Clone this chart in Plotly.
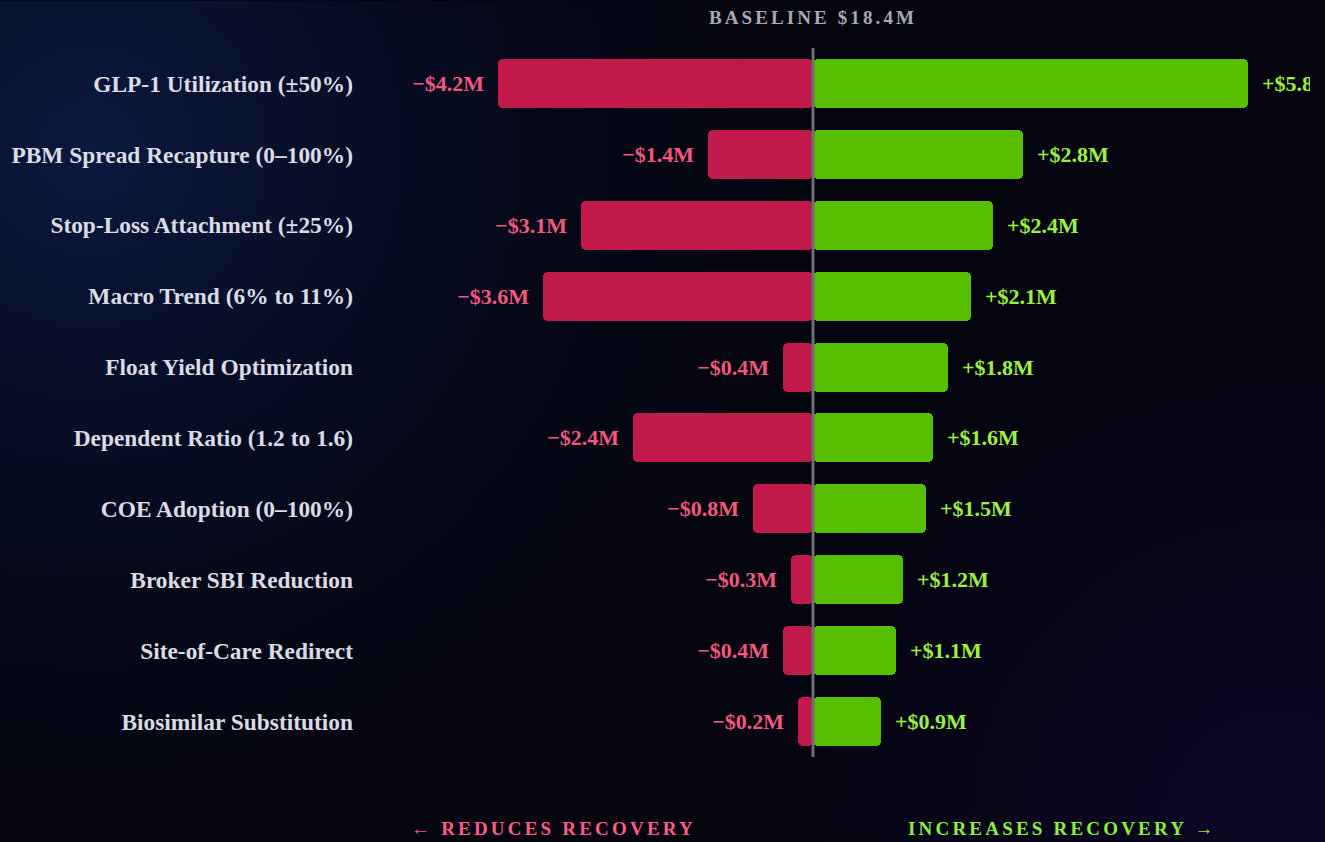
import base64
import plotly.graph_objects as go

# ---------------- data ----------------
categories = [
    "GLP-1 Utilization (±50%)",
    "PBM Spread Recapture (0–100%)",
    "Stop-Loss Attachment (±25%)",
    "Macro Trend (6% to 11%)",
    "Float Yield Optimization",
    "Dependent Ratio (1.2 to 1.6)",
    "COE Adoption (0–100%)",
    "Broker SBI Reduction",
    "Site-of-Care Redirect",
    "Biosimilar Substitution",
]
downside = [-4.2, -1.4, -3.1, -3.6, -0.4, -2.4, -0.8, -0.3, -0.4, -0.2]
upside = [5.8, 2.8, 2.4, 2.1, 1.8, 1.6, 1.5, 1.2, 1.1, 0.9]
baseline_label = "BASELINE $18.4M"
left_caption = "← REDUCES RECOVERY"
right_caption = "INCREASES RECOVERY →"

down_text = ["−$%.1fM" % abs(v) for v in downside]
up_text = ["+$%.1fM" % v for v in upside]

# ---------------- style ----------------
W, H = 1325, 842
ML, MR, MT, MB = 380, 15, 47.5, 84.5
PX_PER_M = 75.0
plot_w = W - ML - MR
plot_h = H - MT - MB
x0 = -(813 - ML) / PX_PER_M
x1 = x0 + plot_w / PX_PER_M

RED = "#C1194A"
GREEN = "#58BF00"
RED_TXT = "#F2587E"
GREEN_TXT = "#9CF03E"
SERIF = "Liberation Serif"
NB = "\u00a0\u00a0"

svg = f"""<svg xmlns='http://www.w3.org/2000/svg' width='{W}' height='{H}' viewBox='0 0 {W} {H}' preserveAspectRatio='none'>
<defs>
<radialGradient id='a' cx='90' cy='150' r='700' gradientUnits='userSpaceOnUse'>
<stop offset='0' stop-color='#0b1840'/><stop offset='0.45' stop-color='#08112e' stop-opacity='0.6'/><stop offset='1' stop-color='#060a20' stop-opacity='0'/></radialGradient>
<radialGradient id='b' cx='1280' cy='830' r='560' gradientUnits='userSpaceOnUse'>
<stop offset='0' stop-color='#10072a' stop-opacity='0.85'/><stop offset='1' stop-color='#0a0522' stop-opacity='0'/></radialGradient>
</defs>
<rect width='{W}' height='{H}' fill='#04050f'/>
<rect width='{W}' height='{H}' fill='url(#a)'/>
<rect width='{W}' height='{H}' fill='url(#b)'/>
</svg>"""
bg_src = "data:image/svg+xml;base64," + base64.b64encode(svg.encode()).decode()

fig = go.Figure()

def half_bars(vals, color, text, txtcolor, left):
    # inner piece (rounded at the baseline end)
    fig.add_trace(go.Bar(
        y=categories, x=[-v * 0.7 for v in vals], base=[v * 0.7 for v in vals],
        orientation="h", width=0.69, marker=dict(color=color, cornerradius=5, line=dict(width=0)),
        hoverinfo="skip", showlegend=False,
    ))
    # outer piece (rounded at the value end) + label
    labels = [(t + NB) if left else (NB + t) for t in text]
    fig.add_trace(go.Bar(
        y=categories, x=[v * 0.7 for v in vals], base=[v * 0.3 for v in vals],
        orientation="h", width=0.69, marker=dict(color=color, cornerradius=5, line=dict(width=0)),
        text=labels, textposition="outside", constraintext="none", cliponaxis=True,
        textfont=dict(family=SERIF, size=22, color=txtcolor, weight="bold"),
        hoverinfo="skip", showlegend=False,
    ))

half_bars(downside, RED, down_text, RED_TXT, True)
half_bars(upside, GREEN, up_text, GREEN_TXT, False)

fig.add_shape(type="line", xref="x", yref="paper", x0=0, x1=0, y0=0, y1=1,
              line=dict(color="#6E6E78", width=3), layer="above")

fig.add_annotation(
    x=0, xref="x", y=1 + (MT - 17) / plot_h, yref="paper", yanchor="middle", xanchor="center",
    text=f"<span style='letter-spacing:3.1px'>{baseline_label}</span>", showarrow=False,
    font=dict(family=SERIF, size=19, color="#A9AAB3", weight="bold"),
)
fig.add_annotation(
    x=(553 - ML) / plot_w, xref="paper", y=-(829 - (MT + plot_h)) / plot_h, yref="paper",
    yanchor="middle", xanchor="center",
    text=f"<span style='letter-spacing:3.2px'>{left_caption}</span>", showarrow=False,
    font=dict(family=SERIF, size=19, color="#FF5C86", weight="bold"),
)
fig.add_annotation(
    x=(1062 - ML) / plot_w, xref="paper", y=-(829 - (MT + plot_h)) / plot_h, yref="paper",
    yanchor="middle", xanchor="center",
    text=f"<span style='letter-spacing:3.2px'>{right_caption}</span>", showarrow=False,
    font=dict(family=SERIF, size=19, color="#8EF03A", weight="bold"),
)

fig.add_layout_image(
    source=bg_src, xref="paper", yref="paper",
    x=-ML / plot_w, y=1 + MT / plot_h, sizex=W / plot_w, sizey=H / plot_h,
    xanchor="left", yanchor="top", sizing="stretch", layer="below",
)

fig.update_layout(
    width=W, height=H,
    margin=dict(l=ML, r=MR, t=MT, b=MB, pad=0),
    paper_bgcolor="#04050f", plot_bgcolor="rgba(0,0,0,0)",
    barmode="overlay", bargap=0,
    xaxis=dict(range=[x0, x1], showgrid=False, zeroline=False, showticklabels=False,
               showline=False, fixedrange=True),
    yaxis=dict(range=[len(categories) - 0.5, -0.5], showgrid=False, zeroline=False,
               showline=False, ticks="", ticklabelstandoff=26,
               tickfont=dict(family=SERIF, size=23.4, color="#DADCE4", weight="bold"),
               fixedrange=True),
    showlegend=False,
)

fig.write_html(
    "out.html",
    config={"displayModeBar": False},
    post_script="document.body.style.margin='0';document.body.style.overflow='hidden';"
                "document.body.style.background='#04050f';",
)
